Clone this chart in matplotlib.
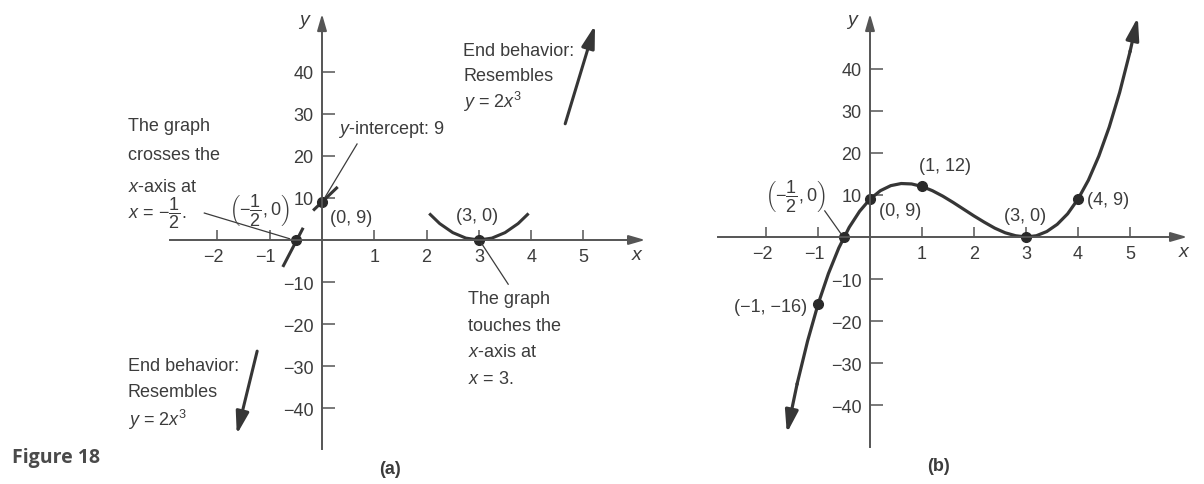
import matplotlib.pyplot as plt
from matplotlib.transforms import ScaledTranslation

plt.rcParams['font.family'] = ['Liberation Sans', 'DejaVu Sans']
plt.rcParams['mathtext.fontset'] = 'custom'
plt.rcParams['mathtext.rm'] = 'Liberation Sans'
plt.rcParams['mathtext.it'] = 'Liberation Sans:italic'
plt.rcParams['mathtext.bf'] = 'Liberation Sans:bold'

# f(x) = (2x + 1)(x - 3)^2, values in (b)
curve_x = [-1.6, -1.4, -1.2, -1.0, -0.8, -0.6, -0.4, -0.2, 0.0, 0.2, 0.4, 0.6,
           0.8, 1.0, 1.2, 1.4, 1.6, 1.8, 2.0, 2.2, 2.4, 2.6, 2.8, 3.0, 3.2,
           3.4, 3.6, 3.8, 4.0, 4.2, 4.4, 4.6, 4.8, 5.0, 5.15]
curve_y = [-46.6, -34.8, -24.7, -16.0, -8.7, -2.6, 2.3, 6.1, 9.0, 11.0, 12.2, 12.7,
           12.6, 12.0, 11.0, 9.7, 8.2, 6.6, 5.0, 3.5, 2.1, 1.0, 0.3, 0.0, 0.3,
           1.3, 3.0, 5.5, 9.0, 13.5, 19.2, 26.1, 34.3, 44.0, 52.2]

# pieces of the graph near the intercepts in (a)
cross_x = [-0.75, -0.36]
cross_y = [-6.4, 2.9]
yint_x = [-0.17, 0.3]
yint_y = [7.0, 12.6]
touch_x = [2.05, 2.25, 2.5, 2.75, 3.0, 3.25, 3.5, 3.75, 3.95]
touch_y = [6.3, 3.9, 1.75, 0.45, 0.0, 0.45, 1.75, 3.9, 6.3]

# end behaviour arrows in (a): (start, tip)
end_up = [(4.65, 27.6), (5.22, 51.0)]
end_down = [(-1.24, -26.4), (-1.63, -46.2)]

points_a = [(-0.5, 0), (0, 9), (3, 0)]
points_b = [(-1, -16), (-0.5, 0), (0, 9), (1, 12), (3, 0), (4, 9)]

x_ticks = [-2, -1, 1, 2, 3, 4, 5]
y_ticks = [-40, -30, -20, -10, 10, 20, 30, 40]

INK = '#363636'
TEXT = '#3c3c3c'
AXIS = '#555555'
FS = 13
HALF = r'\left(-\dfrac{1}{2}, 0\right)'

fig = plt.figure(figsize=(12.04, 4.85), dpi=100)
fig.patch.set_facecolor('white')

ax_a = fig.add_axes([0, 0, 662 / 1204, 1])
ax_a.set_xlim(-6.157, 6.501)
ax_a.set_ylim(-57.96, 57.24)
ax_b = fig.add_axes([662 / 1204, 0, 542 / 1204, 1])
ax_b.set_xlim(-4.0, 6.423)
ax_b.set_ylim(-58.67, 56.53)


def arrow(ax, start, tip, color, lw, scale=14):
    ax.annotate('', xy=tip, xytext=start,
                arrowprops=dict(arrowstyle='-|>,head_length=0.9,head_width=0.26',
                                color=color, lw=lw, shrinkA=0, shrinkB=0,
                                mutation_scale=scale))


def setup_axes(ax, x_left, x_tip, y_bottom, y_tip):
    ax.patch.set_alpha(0)
    for side in ['top', 'right']:
        ax.spines[side].set_visible(False)
    ax.spines['left'].set_position(('data', 0))
    ax.spines['bottom'].set_position(('data', 0))
    ax.spines['left'].set_bounds(y_bottom, y_tip - 3)
    ax.spines['bottom'].set_bounds(x_left, x_tip - 0.2)
    for side in ['left', 'bottom']:
        ax.spines[side].set_color(AXIS)
        ax.spines[side].set_linewidth(1.4)
    ax.set_xticks(x_ticks)
    ax.set_yticks(y_ticks)
    ax.tick_params(axis='x', direction='in', length=7, width=1.1, pad=6,
                   colors=AXIS, labelcolor=TEXT, labelsize=FS)
    ax.tick_params(axis='y', direction='in', length=9, width=1.1, pad=6,
                   colors=AXIS, labelcolor=TEXT, labelsize=FS)
    # keep the digit of a negative label under its tick
    shift = ScaledTranslation(-4 / 100, 0, fig.dpi_scale_trans)
    for value, label in zip(x_ticks, ax.get_xticklabels()):
        if value < 0:
            label.set_transform(label.get_transform() + shift)
    arrow(ax, (0, y_tip - 4), (0, y_tip), AXIS, 1.4, 11)
    arrow(ax, (x_tip - 0.3, 0), (x_tip, 0), AXIS, 1.4, 11)
    ax.text(-0.33, y_tip - 1.8, '$y$', fontsize=FS + 1, color=TEXT, ha='center', va='center')
    ax.text(6.04, -3.4, '$x$', fontsize=FS + 1, color=TEXT, ha='center', va='center')


def lines(ax, x, ys, texts):
    for y, t in zip(ys, texts):
        ax.text(x, y, t, fontsize=FS, color=TEXT, ha='left', va='center')


setup_axes(ax_a, -2.9, 6.18, -49.6, 53.7)
setup_axes(ax_b, -2.92, 6.1, -49.9, 53.0)

# (a) local behaviour near the x-intercepts and the y-intercept
for xs, ys in [(cross_x, cross_y), (yint_x, yint_y), (touch_x, touch_y)]:
    ax_a.plot(xs, ys, color=INK, lw=2.2, solid_capstyle='butt')
ax_a.plot([p[0] for p in points_a], [p[1] for p in points_a], 'o', color='#2a2a2a', ms=7)
arrow(ax_a, end_up[0], end_up[1], INK, 2.2, 15)
arrow(ax_a, end_down[0], end_down[1], INK, 2.2, 15)

lines(ax_a, -3.71, [27.1, 20.2, 12.8], ['The graph', 'crosses the', '$x$-axis at'])
ax_a.text(-3.71, 6.6, r'$x$ = $-\dfrac{1}{2}$.', fontsize=FS, color=TEXT,
          ha='left', va='center')
ax_a.plot([-2.25, -0.62], [6.4, 0.3], color=TEXT, lw=0.9)
ax_a.text(-0.62, 7.4, '$' + HALF + '$', fontsize=FS, color=TEXT,
          ha='right', va='center')
ax_a.text(0.31, 26.4, '$y$-intercept: 9', fontsize=FS, color=TEXT, ha='left', va='center')
ax_a.plot([0.67, 0.06], [22.8, 10.2], color=TEXT, lw=0.9)
ax_a.text(0.15, 5.4, '(0, 9)', fontsize=FS, color=TEXT, ha='left', va='center')
ax_a.text(2.96, 5.8, '(3, 0)', fontsize=FS, color=TEXT, ha='center', va='center')
ax_a.plot([3.05, 3.56], [-0.8, -10.5], color=TEXT, lw=0.9)
lines(ax_a, 2.79, [-14.0, -20.4, -26.6, -33.0],
      ['The graph', 'touches the', '$x$-axis at', '$x$ = 3.'])
lines(ax_a, 2.70, [44.9, 39.0, 33.0], ['End behavior:', 'Resembles', '$y$ = 2$x^3$'])
lines(ax_a, -3.71, [-29.9, -36.1, -42.5], ['End behavior:', 'Resembles', '$y$ = 2$x^3$'])

# (b) the full graph
ax_b.plot(curve_x[1:-1], curve_y[1:-1], color=INK, lw=2.3, solid_joinstyle='round')
arrow(ax_b, (curve_x[-2], curve_y[-2]), (curve_x[-1], curve_y[-1]), INK, 2.3, 15)
arrow(ax_b, (curve_x[1], curve_y[1]), (curve_x[0], curve_y[0]), INK, 2.3, 15)
ax_b.plot([p[0] for p in points_b], [p[1] for p in points_b], 'o', color='#2a2a2a', ms=7)

ax_b.text(-1.44, 9.9, '$' + HALF + '$', fontsize=FS, color=TEXT,
          ha='center', va='center')
ax_b.plot([-0.87, -0.56], [6.2, 0.8], color=TEXT, lw=0.9)
ax_b.text(-1.21, -16.4, '(−1, −16)', fontsize=FS, color=TEXT, ha='right', va='center')
ax_b.text(0.58, 6.2, '(0, 9)', fontsize=FS, color=TEXT, ha='center', va='center')
ax_b.text(1.44, 16.9, '(1, 12)', fontsize=FS, color=TEXT, ha='center', va='center')
ax_b.text(2.98, 5.0, '(3, 0)', fontsize=FS, color=TEXT, ha='center', va='center')
ax_b.text(4.17, 9.0, '(4, 9)', fontsize=FS, color=TEXT, ha='left', va='center')

fig.text(12 / 1204, 1 - 458 / 485, 'Figure 18', fontsize=14, fontweight='bold',
         color='#4a4a4a', family=['Open Sans', 'DejaVu Sans'], ha='left', va='center')
fig.text(390 / 1204, 1 - 470 / 485, '(a)', fontsize=13, fontweight='bold', color=TEXT,
         ha='center', va='center')
fig.text(938 / 1204, 1 - 467 / 485, '(b)', fontsize=13, fontweight='bold', color=TEXT,
         ha='center', va='center')

fig.savefig('out.png', dpi=100, facecolor='white')
